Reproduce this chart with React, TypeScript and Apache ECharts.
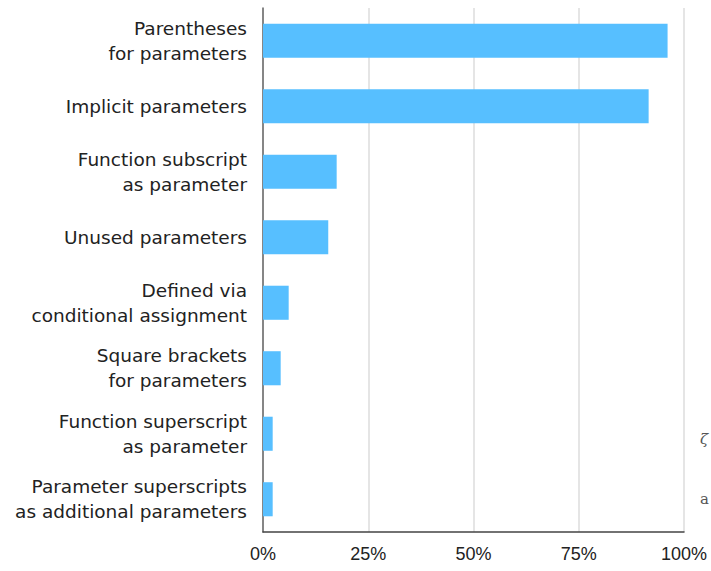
import React, { useEffect, useRef } from "react";
import * as echarts from "echarts";

const categories = [
  "Parentheses\nfor parameters",
  "Implicit parameters",
  "Function subscript\nas parameter",
  "Unused parameters",
  "Defined via\nconditional assignment",
  "Square brackets\nfor parameters",
  "Function superscript\nas parameter",
  "Parameter superscripts\nas additional parameters",
];
const values = [96.1, 91.6, 17.5, 15.5, 6.1, 4.2, 2.3, 2.3];
const tickValues = [0, 25, 50, 75, 100];

export default function App() {
  const ref = useRef<HTMLDivElement>(null);
  useEffect(() => {
    const chart = echarts.init(ref.current!, null, { renderer: "svg" });
    chart.setOption({
      animation: false,
      grid: { left: 263, right: 27, top: 8, bottom: 39, containLabel: false },
      xAxis: {
        type: "value",
        min: tickValues[0],
        max: tickValues[tickValues.length - 1],
        interval: 25,
        axisLine: { show: true, lineStyle: { color: "#444", width: 1.5 } },
        axisTick: { show: false },
        splitLine: { show: true, lineStyle: { color: "#dcdcdc", width: 1.5 } },
        axisLabel: {
          formatter: (v: number) => v + "%",
          color: "#222",
          fontSize: 18,
          fontFamily: "Liberation Sans, Arial, sans-serif",
          margin: 13,
        },
      },
      yAxis: {
        type: "category",
        inverse: true,
        data: categories,
        axisLine: { show: true, lineStyle: { color: "#666", width: 1.5 } },
        axisTick: { show: false },
        axisLabel: {
          color: "#222",
          fontSize: 18.5,
          lineHeight: 25,
          align: "right",
          fontFamily: "DejaVu Sans, sans-serif",
          margin: 16,
        },
      },
      series: [
        {
          type: "bar",
          data: values,
          barWidth: "52%",
          itemStyle: { color: "#57bfff" },
        },
      ],
      graphic: [
        {
          type: "text",
          x: 700,
          y: 431,
          style: { text: "ζ", fill: "#555", fontSize: 15, fontFamily: "DejaVu Serif, serif", fontStyle: "italic" },
        },
        {
          type: "text",
          x: 700,
          y: 491,
          style: { text: "a", fill: "#555", fontSize: 15, fontFamily: "DejaVu Serif, serif" },
        },
      ],
    });
    return () => chart.dispose();
  }, []);
  return <div ref={ref} style={{ width: 711, height: 571, position: "absolute", left: 0, top: 0 }} />;
}
